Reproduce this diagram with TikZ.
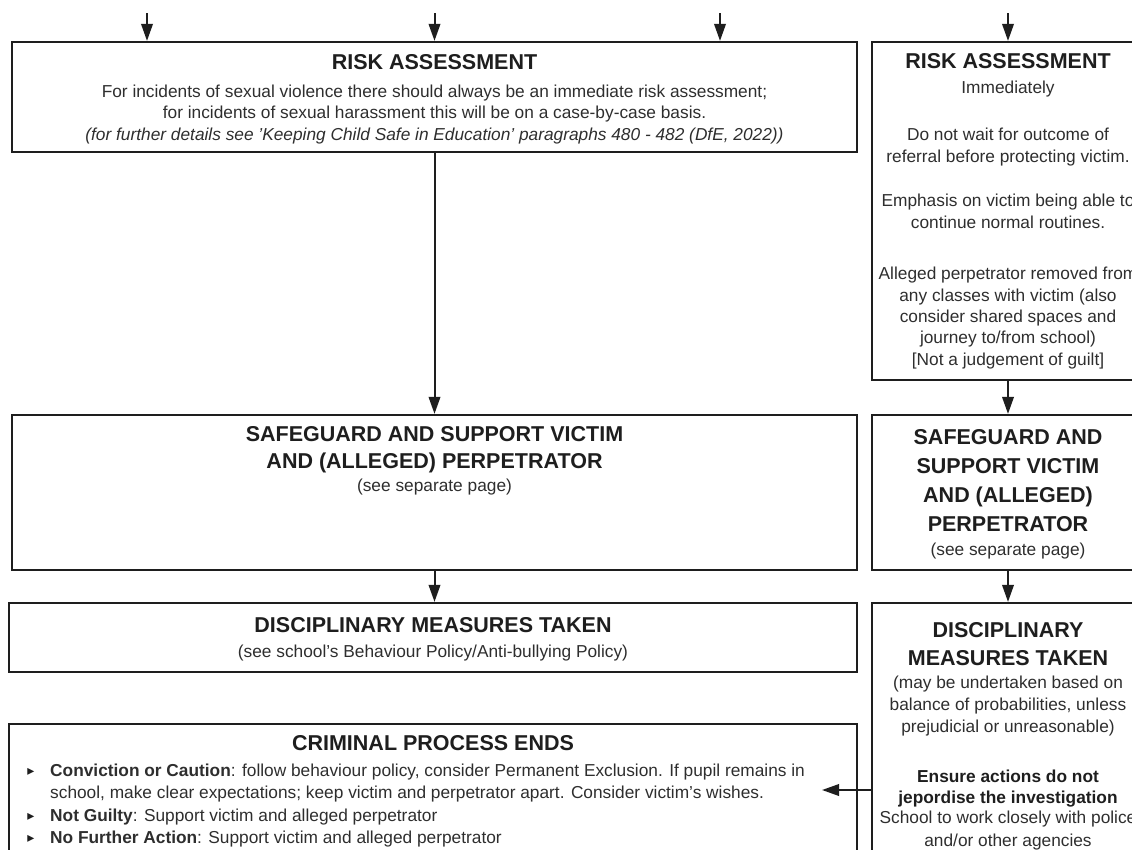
\documentclass[tikz,border=0pt]{standalone}
\usepackage{fontspec}
\setmainfont{Liberation Sans}
\newfontfamily\symfont{DejaVu Sans}
\usetikzlibrary{arrows.meta}
\definecolor{ink}{HTML}{1E1E1E}
\definecolor{bodyc}{HTML}{2E2E2E}
\begin{document}
\begin{tikzpicture}[x=1pt,y=-1pt,
 box/.style={draw=ink, line width=2.2pt, inner sep=0pt},
 arr/.style={draw=ink, line width=2pt, -{Triangle[length=17pt,width=11.5pt]}},
 ttl/.style={font=\fontsize{21.5}{28}\selectfont\bfseries, text=ink, align=center, inner sep=0pt, anchor=base},
 txt/.style={font=\fontsize{17.3}{21.6}\selectfont, text=bodyc, align=center, inner sep=0pt, anchor=base},
 lst/.style={font=\fontsize{17.3}{22.5}\selectfont, text=bodyc, align=left, inner sep=0pt, anchor=base west},
 bul/.style={font=\symfont\fontsize{14}{14}\selectfont, text=ink, inner sep=0pt, anchor=base}
]
\useasboundingbox (0,0) rectangle (1132,849);
\clip (0,0) rectangle (1132,849);

% boxes
\node[box, minimum width=845pt, minimum height=110pt] (A) at (434.5,97) {};
\node[box, minimum width=272pt, minimum height=338pt] (B) at (1008,211) {};
\node[box, minimum width=845pt, minimum height=155pt] (C) at (434.5,492.5) {};
\node[box, minimum width=848pt, minimum height=69pt] (D) at (433,637.5) {};
\node[box, minimum width=848pt, minimum height=176pt] (E) at (433,812) {};
\node[box, minimum width=272pt, minimum height=155pt] (F1) at (1008,492.5) {};
\node[box, minimum width=272pt, minimum height=297pt] (F2) at (1008,751.5) {};

% free ends
\coordinate (t1) at (147,13);
\coordinate (t2) at (434.5,13);
\coordinate (t3) at (720,13);
\coordinate (t4) at (1008,13);
\coordinate (e) at (822,790);

% connectors
\draw[arr] (t1) -- (t1 |- A.north);
\draw[arr] (t2) -- (t2 |- A.north);
\draw[arr] (t3) -- (t3 |- A.north);
\draw[arr] (t4) -- (B.north);
\draw[arr] (A.south) -- (C.north);
\draw[arr] (C.south) -- (C.south |- D.north);
\draw[arr] (B.south) -- (F1.north);
\draw[arr] (F1.south) -- (F2.north);
\draw[arr] (F2.west |- e) -- (e);

% box A text (multi-line nodes are placed at the baseline of their last line)
\node[ttl] (Ati) at (434.5,69.5) {RISK ASSESSMENT};
\node[txt, font=\fontsize{17.3}{21.5}\selectfont] (Atx) at (434.5,140) {For incidents of sexual violence there should always be an immediate risk assessment;\\
for incidents of sexual harassment this will be on a case-by-case basis.\\
\itshape (for further details see 'Keeping Child Safe in Education' paragraphs 480 - 482 (DfE, 2022))};

% box B text
\node[ttl] (Bti) at (1008,68.5) {RISK ASSESSMENT};
\node[txt] (Bt1) at (1008,93) {Immediately};
\node[txt] (Bt2) at (1008,162) {Do not wait for outcome of\\referral before protecting victim.};
\node[txt] (Bt3) at (1008,228) {Emphasis on victim being able to\\continue normal routines.};
\node[txt, font=\fontsize{17.3}{21.3}\selectfont] (Bt4) at (1008,365) {Alleged perpetrator removed from\\any classes with victim (also\\consider shared spaces and\\journey to/from school)\\{}[Not a judgement of guilt]};

% box C text
\node[ttl, font=\fontsize{21.5}{27}\selectfont\bfseries] (Cti) at (434.5,468) {SAFEGUARD AND SUPPORT VICTIM\\AND (ALLEGED) PERPETRATOR};
\node[txt] (Ctx) at (434.5,491) {(see separate page)};

% box D text
\node[ttl] (Dti) at (433,632) {DISCIPLINARY MEASURES TAKEN};
\node[txt] (Dtx) at (433,657) {(see school's Behaviour Policy/Anti-bullying Policy)};

% box E text
\node[ttl] (Eti) at (433,750) {CRIMINAL PROCESS ENDS};
\node[lst] (Etx) at (50,843.5) {\textbf{Conviction or Caution}: follow behaviour policy, consider Permanent Exclusion. If pupil remains in\\
school, make clear expectations; keep victim and perpetrator apart. Consider victim's wishes.\\
\textbf{Not Guilty}: Support victim and alleged perpetrator\\
\textbf{No Further Action}: Support victim and alleged perpetrator};
\node[bul] (b1) at (31,775) {▸};
\node[bul] (b2) at (31,820.5) {▸};
\node[bul] (b3) at (31,842.5) {▸};

% box F1 text
\node[ttl, font=\fontsize{21.5}{28.7}\selectfont\bfseries] (F1ti) at (1008,531) {SAFEGUARD AND\\SUPPORT VICTIM\\AND (ALLEGED)\\PERPETRATOR};
\node[txt] (F1tx) at (1008,555) {(see separate page)};

% box F2 text
\node[ttl] (F2ti) at (1008,665) {DISCIPLINARY\\MEASURES TAKEN};
\node[txt, font=\fontsize{17.3}{22}\selectfont] (F2t1) at (1008,732) {(may be undertaken based on\\balance of probabilities, unless\\prejudicial or unreasonable)};
\node[txt, font=\fontsize{17.3}{21}\selectfont\bfseries, text=ink] (F2t2) at (1008,803) {Ensure actions do not\\jepordise the investigation};
\node[txt, font=\fontsize{17.3}{22.5}\selectfont] (F2t3) at (1008,846) {School to work closely with police\\and/or other agencies};
\end{tikzpicture}
\end{document}
